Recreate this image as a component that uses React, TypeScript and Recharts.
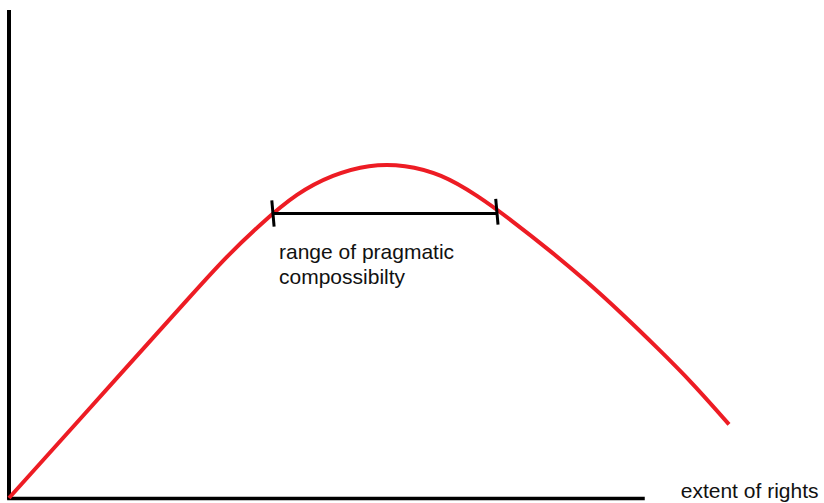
import React from "react";
import { LineChart, Line, XAxis, YAxis, ReferenceLine, ReferenceDot } from "recharts";

// Extent of rights (horizontal) and the resulting compossibility (vertical), 0–100 scale
const rightsExtent = [0, 5, 10, 15, 20, 25, 30, 35, 40, 45, 50, 55, 60, 65, 70, 75, 80, 85, 90, 95, 100];
const compossibility = [0, 8.2, 16.4, 24.6, 32.8, 41.0, 49.0, 56.1, 62.1, 66.0, 68.0, 68.0, 66.0, 61.9, 56.6, 50.8, 44.6, 37.9, 30.8, 23.3, 15.1];

// Range of pragmatic compossibility along the curve
const rangeStart = 36.7;
const rangeEnd = 67.8;
const rangeLevel = 58.3;

// End of the drawn horizontal axis
const axisEnd = 88.3;

const rangeLabelLines = ["range of pragmatic", "compossibilty"];
const axisTitle = "extent of rights";

const data = rightsExtent.map((x, i) => ({ x, y: compossibility[i] }));

const FONT = "'Liberation Sans', Arial, sans-serif";

const textShape = (value: string) => (p: any) => (
  <text x={p.cx} y={p.cy} fontFamily={FONT} fontSize={21} fill="#111">
    {value}
  </text>
);

export default function App() {
  return (
    <div style={{ position: "absolute", left: 0, top: 0, background: "#fff" }}>
      <LineChart
        width={824}
        height={503}
        data={data}
        margin={{ top: 10, right: 95, bottom: 5, left: 9 }}
      >
        <XAxis type="number" dataKey="x" domain={[0, 100]} hide />
        <YAxis type="number" domain={[0, 100]} hide />

        {/* axes */}
        <ReferenceLine
          segment={[{ x: 0, y: -0.3 }, { x: 0, y: 100 }]}
          stroke="#000"
          strokeWidth={4}
          ifOverflow="visible"
        />
        <ReferenceLine
          segment={[{ x: -0.25, y: -0.1 }, { x: axisEnd, y: -0.1 }]}
          stroke="#000"
          strokeWidth={3.5}
          ifOverflow="visible"
        />

        <Line
          type="natural"
          dataKey="y"
          stroke="#ED1C24"
          strokeWidth={4}
          dot={false}
          isAnimationActive={false}
        />

        {/* range bar */}
        <ReferenceLine
          segment={[{ x: rangeStart, y: rangeLevel }, { x: rangeEnd, y: rangeLevel }]}
          stroke="#000"
          strokeWidth={3}
          ifOverflow="visible"
        />
        <ReferenceLine
          segment={[{ x: rangeStart - 0.2, y: rangeLevel + 2.7 }, { x: rangeStart + 0.12, y: rangeLevel - 2.7 }]}
          stroke="#000"
          strokeWidth={3}
          ifOverflow="visible"
        />
        <ReferenceLine
          segment={[{ x: rangeEnd - 0.2, y: rangeLevel + 3.0 }, { x: rangeEnd + 0.12, y: rangeLevel - 2.3 }]}
          stroke="#000"
          strokeWidth={3}
          ifOverflow="visible"
        />

        {/* labels */}
        <ReferenceDot x={37.5} y={49.0} r={0} ifOverflow="visible" shape={textShape(rangeLabelLines[0])} />
        <ReferenceDot x={37.5} y={43.9} r={0} ifOverflow="visible" shape={textShape(rangeLabelLines[1])} />
        <ReferenceDot x={93.3} y={-0.1} r={0} ifOverflow="visible" shape={textShape(axisTitle)} />
      </LineChart>
    </div>
  );
}
